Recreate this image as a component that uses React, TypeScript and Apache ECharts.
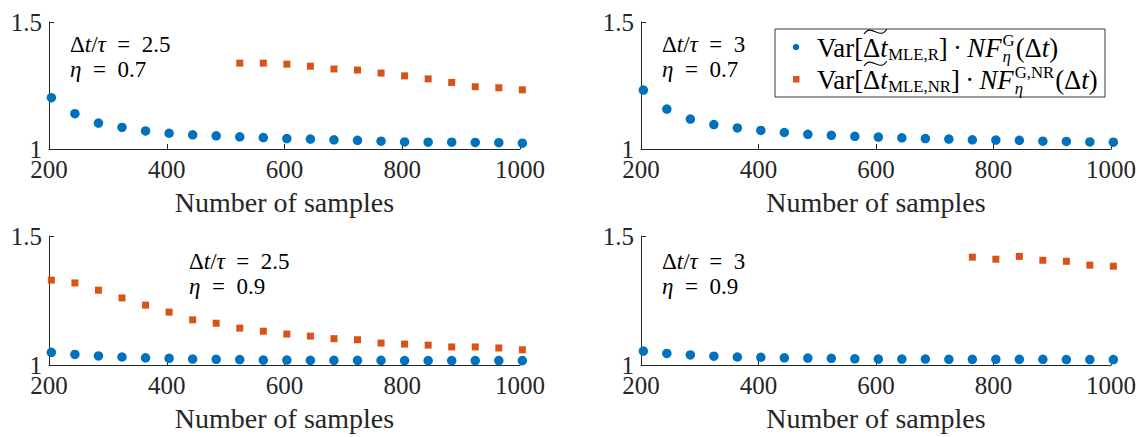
import React, { useEffect, useRef } from "react";
import * as echarts from "echarts";

const XS = [204, 244, 284, 324, 364, 404, 444, 484, 524, 564, 604, 644, 684, 724, 764, 804, 844, 884, 924, 964, 1004];

const p1Blue = [1.202, 1.139, 1.102, 1.085, 1.071, 1.062, 1.056, 1.052, 1.048, 1.045, 1.041, 1.039, 1.036, 1.034, 1.031, 1.028, 1.027, 1.027, 1.026, 1.025, 1.023];
const p1OrangeStart = 8;
const p1Orange = [1.338, 1.338, 1.334, 1.326, 1.315, 1.311, 1.299, 1.288, 1.276, 1.262, 1.245, 1.241, 1.233];

const p2Blue = [1.232, 1.157, 1.118, 1.096, 1.083, 1.073, 1.065, 1.058, 1.054, 1.05, 1.047, 1.044, 1.041, 1.039, 1.036, 1.035, 1.034, 1.031, 1.03, 1.028, 1.027];
const p2OrangeStart = 0;
const p2Orange: number[] = [];

const p3Blue = [1.049, 1.041, 1.035, 1.031, 1.028, 1.026, 1.023, 1.022, 1.021, 1.019, 1.019, 1.018, 1.018, 1.018, 1.018, 1.017, 1.017, 1.017, 1.017, 1.017, 1.017];
const p3OrangeStart = 0;
const p3Orange = [1.329, 1.318, 1.29, 1.26, 1.232, 1.205, 1.175, 1.162, 1.143, 1.131, 1.12, 1.112, 1.102, 1.098, 1.085, 1.081, 1.077, 1.07, 1.07, 1.066, 1.059];

const p4Blue = [1.054, 1.045, 1.039, 1.034, 1.031, 1.03, 1.028, 1.027, 1.026, 1.024, 1.023, 1.023, 1.023, 1.022, 1.022, 1.022, 1.022, 1.022, 1.021, 1.021, 1.021];
const p4OrangeStart = 14;
const p4Orange = [1.418, 1.41, 1.421, 1.406, 1.402, 1.387, 1.383];

const ratioLabels = ["2.5", "3", "2.5", "3"];
const etaLabels = ["0.7", "0.7", "0.9", "0.9"];
const legendSubs = ["MLE,R", "MLE,NR"];
const legendSups = ["G", "G,NR"];

const X_TICKS = { min: 200, max: 1000, interval: 200 };
const Y_TICKS = { min: 1, max: 1.5, interval: 0.5 };
const X_NAME = "Number of samples";

const BLUE = "#0072BD";
const ORANGE = "#D95319";
const AX = "#262626";
const FONT = "'Liberation Serif', 'Times New Roman', serif";

const grids = [
  { left: 49, top: 22, width: 471, height: 127 },
  { left: 641, top: 22, width: 470, height: 127 },
  { left: 49, top: 236, width: 471, height: 129 },
  { left: 641, top: 236, width: 470, height: 129 },
];

const annot = [
  { x: 70, y1: 44, y2: 69 },
  { x: 662, y1: 44, y2: 69 },
  { x: 189, y1: 261, y2: 286 },
  { x: 662, y1: 261, y2: 286 },
];

let measureCtx: CanvasRenderingContext2D | null = null;
function measure(t: string, fs: number, italic: boolean) {
  if (!measureCtx) measureCtx = document.createElement("canvas").getContext("2d");
  if (!measureCtx) return t.length * fs * 0.5;
  measureCtx.font = `${italic ? "italic " : ""}${fs}px ${FONT}`;
  return measureCtx.measureText(t).width;
}

export default function App() {
  const ref = useRef<HTMLDivElement>(null);
  useEffect(() => {
    if (!ref.current) return;
    const chart = echarts.init(ref.current, null, { renderer: "svg" });
    const blues = [p1Blue, p2Blue, p3Blue, p4Blue];
    const oranges = [p1Orange, p2Orange, p3Orange, p4Orange];
    const oStarts = [p1OrangeStart, p2OrangeStart, p3OrangeStart, p4OrangeStart];

    const xAxes = grids.map((_, i) => ({
      type: "value",
      gridIndex: i,
      min: X_TICKS.min,
      max: X_TICKS.max,
      interval: X_TICKS.interval,
      name: X_NAME,
      nameLocation: "middle",
      nameGap: 39,
      nameTextStyle: { fontFamily: FONT, fontSize: 28, color: AX },
      axisLine: { show: true, onZero: false, lineStyle: { color: AX, width: 1 } },
      axisTick: { show: true, inside: true, length: 5, lineStyle: { color: AX } },
      axisLabel: { margin: 8, fontFamily: FONT, fontSize: 25, color: AX, formatter: (v: number) => String(v) },
      splitLine: { show: false },
    }));
    const yAxes = grids.map((_, i) => ({
      type: "value",
      gridIndex: i,
      min: Y_TICKS.min,
      max: Y_TICKS.max,
      interval: Y_TICKS.interval,
      axisLine: { show: true, onZero: false, lineStyle: { color: AX, width: 1 } },
      axisTick: { show: true, inside: true, length: 5, lineStyle: { color: AX } },
      axisLabel: { margin: 7, fontFamily: FONT, fontSize: 25, color: AX, formatter: (v: number) => String(v) },
      splitLine: { show: false },
    }));

    const series: any[] = [];
    grids.forEach((_, i) => {
      series.push({
        type: "scatter",
        xAxisIndex: i,
        yAxisIndex: i,
        clip: false,
        symbol: "circle",
        symbolSize: 9.5,
        itemStyle: { color: BLUE, opacity: 1 },
        data: blues[i].map((v, k) => [XS[k], v]),
      });
      if (oranges[i].length) {
        series.push({
          type: "scatter",
          xAxisIndex: i,
          yAxisIndex: i,
          clip: false,
          symbol: "rect",
          symbolSize: 7,
          itemStyle: { color: ORANGE, opacity: 1 },
          data: oranges[i].map((v, k) => [XS[k + oStarts[i]], v]),
        });
      }
    });

    const rich = (fs: number) => ({
      n: { fontFamily: FONT, fontSize: fs, fill: "#000", color: "#000" },
      i: { fontFamily: FONT, fontSize: fs, fontStyle: "italic", fill: "#000", color: "#000" },
    });
    const txt = (x: number, y: number, text: string, fs: number, z = 5) => ({
      type: "text",
      x,
      y,
      z,
      style: {
        text,
        rich: rich(fs),
        fontFamily: FONT,
        fontSize: fs,
        fill: "#000",
        align: "left",
        verticalAlign: "middle",
      },
    });
    const plain = (x: number, y: number, t: string, fs: number, italic: boolean, z = 12) => ({
      type: "text",
      x,
      y,
      z,
      style: {
        text: t,
        fontFamily: FONT,
        fontSize: fs,
        fontStyle: italic ? "italic" : "normal",
        fill: "#000",
        align: "left",
        verticalAlign: "middle",
      },
    });

    const elements: any[] = [];
    annot.forEach((a, i) => {
      elements.push(txt(a.x, a.y1, `{n|Δ}{i|t}{n|/}{i|τ}{n|  =  ${ratioLabels[i]}}`, 23));
      elements.push(txt(a.x, a.y2, `{i|η}{n|  =  ${etaLabels[i]}}`, 23));
    });

    // legend box + markers
    elements.push({
      type: "rect",
      shape: { x: 775, y: 29, width: 330, height: 68 },
      style: { fill: "#fff", stroke: "#3a3a3a", lineWidth: 1 },
      z: 10,
    });
    elements.push({ type: "circle", shape: { cx: 796, cy: 47, r: 3.3 }, style: { fill: BLUE }, z: 11 });
    elements.push({ type: "rect", shape: { x: 793, y: 76, width: 6.5, height: 6.5 }, style: { fill: ORANGE }, z: 11 });

    // legend text laid out piece by piece with measured widths
    const layoutLine = (sub: string, sup: string, F: number, S: number, m: number, emit: boolean) => {
      let x = 817;
      const out: any[] = [];
      const put = (t: string, fs: number, it: boolean, dy = 0) => {
        if (emit) out.push(plain(x, m + dy, t, fs, it));
        x += measure(t, fs, it);
      };
      put("Var[", F, false);
      const tx0 = x;
      put("Δ", F, false);
      put("t", F, true);
      const tx1 = x;
      x += 0.5;
      put(sub, S, false, F * 0.26);
      put("]", F, false);
      x += F * 0.2;
      put("·", F, false);
      x += F * 0.2;
      put("NF", F, true);
      x += 1;
      const sx = x;
      if (emit) {
        out.push(plain(sx, m - F * 0.27, sup, S, false));
        out.push(plain(sx, m + F * 0.3, "η", S, true));
      }
      x = sx + Math.max(measure(sup, S, false), measure("η", S, true)) + 1;
      put("(Δ", F, false);
      put("t", F, true);
      put(")", F, false);
      if (emit) {
        const w = tx1 - tx0;
        out.push({
          type: "bezierCurve",
          z: 12,
          shape: {
            x1: tx0 + 1,
            y1: m - F * 0.52,
            x2: tx1 - 1,
            y2: m - F * 0.7,
            cpx1: tx0 + w * 0.32,
            cpy1: m - F * 0.95,
            cpx2: tx0 + w * 0.68,
            cpy2: m - F * 0.27,
          },
          style: { stroke: "#000", lineWidth: 1.1, fill: "none" },
        });
      }
      return { width: x - 817, out };
    };
    const baseW = layoutLine(legendSubs[1], legendSups[1], 24, 15, 0, false).width;
    const k = Math.min(1.15, Math.max(0.85, 281 / baseW));
    const F = 24 * k;
    const S = 15 * k;
    elements.push(...layoutLine(legendSubs[0], legendSups[0], F, S, 48, true).out);
    elements.push(...layoutLine(legendSubs[1], legendSups[1], F, S, 80, true).out);

    chart.setOption({
      animation: false,
      backgroundColor: "#fff",
      grid: grids.map((g) => ({ ...g })),
      xAxis: xAxes,
      yAxis: yAxes,
      series,
      graphic: { elements },
    } as any);
    return () => chart.dispose();
  }, []);
  return (
    <div
      ref={ref}
      style={{ position: "fixed", left: 0, top: 0, width: 1139, height: 437, background: "#fff" }}
    />
  );
}
